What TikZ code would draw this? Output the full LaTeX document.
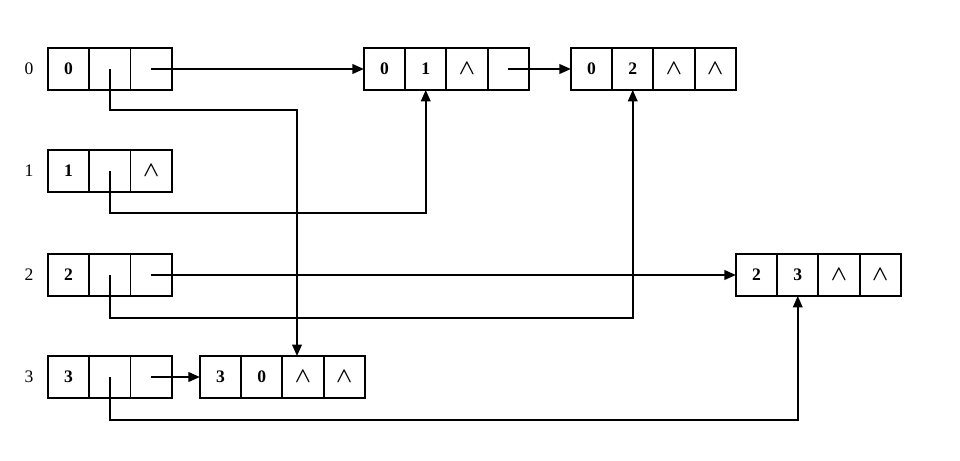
\documentclass[tikz,border=0pt]{standalone}
\usepackage{fontspec}
\setmainfont{Liberation Serif}
\usetikzlibrary{arrows.meta,positioning}

\tikzset{
  cell/.style={draw, line width=1.1pt, outer sep=0pt, minimum width=0.825cm, minimum height=0.84cm, font=\bfseries},
  nil/.style={cell, font=\large\boldmath},
  link/.style={line width=0.9pt, -{Triangle[length=6.5pt,width=5.5pt]}},
  rowlabel/.style={font=\normalsize}
}

\begin{document}
\begin{tikzpicture}
  \useasboundingbox (0,0) rectangle (19.2,9.2);

  % vertex list
  \node[rowlabel] (l0) at (0.58,7.82) {0};
  \node[rowlabel] (l1) at (0.58,5.78) {1};
  \node[rowlabel] (l2) at (0.58,3.70) {2};
  \node[rowlabel] (l3) at (0.58,1.66) {3};

  \node[cell] (v0a) at (1.372,7.82) {0};
  \node[cell, right=0pt of v0a] (v0b) {};
  \node[cell, right=0pt of v0b] (v0c) {};

  \node[cell] (v1a) at (1.372,5.78) {1};
  \node[cell, right=0pt of v1a] (v1b) {};
  \node[nil, right=0pt of v1b] (v1c) {$\wedge$};

  \node[cell] (v2a) at (1.372,3.70) {2};
  \node[cell, right=0pt of v2a] (v2b) {};
  \node[cell, right=0pt of v2b] (v2c) {};

  \node[cell] (v3a) at (1.372,1.66) {3};
  \node[cell, right=0pt of v3a] (v3b) {};
  \node[cell, right=0pt of v3b] (v3c) {};

  % edge nodes
  \node[cell] (e01a) at (7.69,7.82) {0};
  \node[cell, right=0pt of e01a] (e01b) {1};
  \node[nil, right=0pt of e01b] (e01c) {$\wedge$};
  \node[cell, right=0pt of e01c] (e01d) {};

  \node[cell] (e02a) at (11.83,7.82) {0};
  \node[cell, right=0pt of e02a] (e02b) {2};
  \node[nil, right=0pt of e02b] (e02c) {$\wedge$};
  \node[nil, right=0pt of e02c] (e02d) {$\wedge$};

  \node[cell] (e23a) at (15.13,3.70) {2};
  \node[cell, right=0pt of e23a] (e23b) {3};
  \node[nil, right=0pt of e23b] (e23c) {$\wedge$};
  \node[nil, right=0pt of e23c] (e23d) {$\wedge$};

  \node[cell] (e30a) at (4.41,1.66) {3};
  \node[cell, right=0pt of e30a] (e30b) {0};
  \node[nil, right=0pt of e30b] (e30c) {$\wedge$};
  \node[nil, right=0pt of e30c] (e30d) {$\wedge$};

  % links
  \draw[link] (v0c.center) -- (e01a.west);
  \draw[link] (e01d.center) -- (e02a.west);
  \draw[link] (v2c.center) -- (e23a.west);
  \draw[link] (v3c.center) -- (e30a.west);

  \draw[link] (v0b.center) -- ++(0,-0.82) -| ([xshift=-0.12cm]e30c.north);
  \draw[link] (v1b.center) -- ++(0,-0.84) -| (e01b.south);
  \draw[link] (v2b.center) -- ++(0,-0.86) -| (e02b.south);
  \draw[link] (v3b.center) -- ++(0,-0.86) -| (e23b.south);
\end{tikzpicture}
\end{document}
